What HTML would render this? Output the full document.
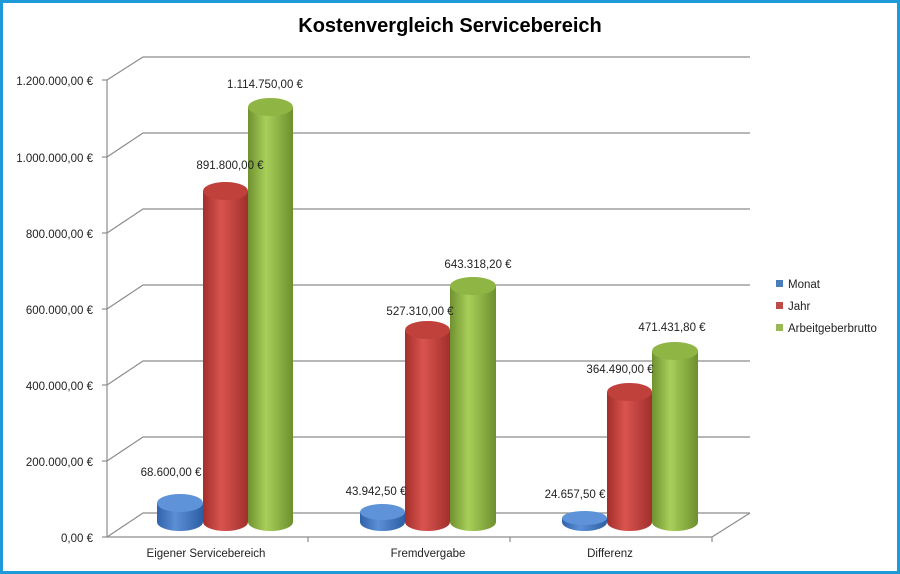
<!DOCTYPE html>
<html><head><meta charset="utf-8"><style>
html,body{margin:0;padding:0;background:#fff}
svg{display:block;font-family:"Liberation Sans",sans-serif}
</style></head><body>
<svg width="900" height="574" viewBox="0 0 900 574" xmlns="http://www.w3.org/2000/svg">
<defs>
<linearGradient id="gb" x1="0" x2="1"><stop offset="0" stop-color="#2f62a8"/><stop offset="0.4" stop-color="#5b8fd6"/><stop offset="1" stop-color="#2d5ea3"/></linearGradient>
<linearGradient id="gr" x1="0" x2="1"><stop offset="0" stop-color="#a32e2b"/><stop offset="0.4" stop-color="#d9544f"/><stop offset="1" stop-color="#a12f2c"/></linearGradient>
<linearGradient id="gg" x1="0" x2="1"><stop offset="0" stop-color="#6f9130"/><stop offset="0.4" stop-color="#a8cf5a"/><stop offset="1" stop-color="#6e8f2e"/></linearGradient>
</defs>
<rect x="1.5" y="1.5" width="897" height="571" fill="#fff" stroke="#1e9ad8" stroke-width="3"/>
<text x="450" y="32" text-anchor="middle" font-size="20" font-weight="bold" fill="#000">Kostenvergleich Servicebereich</text>
<g stroke="#8c8c8c" stroke-width="1.2" fill="none">
<polyline points="107,80 143,57 750,57"/>
<polyline points="107,157 143,133 750,133"/>
<polyline points="107,233 143,209 750,209"/>
<polyline points="107,309 143,285 750,285"/>
<polyline points="107,385 143,361 750,361"/>
<polyline points="107,461 143,437 750,437"/>
<polyline points="107,537 143,513 750,513"/>
<line x1="107" y1="80" x2="107" y2="537"/>
<line x1="107" y1="537" x2="712" y2="537"/>
<line x1="712" y1="537" x2="750" y2="513"/>
<line x1="102" y1="80" x2="107" y2="80"/><line x1="102" y1="157" x2="107" y2="157"/><line x1="102" y1="233" x2="107" y2="233"/><line x1="102" y1="309" x2="107" y2="309"/><line x1="102" y1="385" x2="107" y2="385"/><line x1="102" y1="461" x2="107" y2="461"/><line x1="102" y1="537" x2="107" y2="537"/>
<line x1="308" y1="537" x2="308" y2="542"/><line x1="510" y1="537" x2="510" y2="542"/><line x1="712" y1="537" x2="712" y2="542"/>
</g>
<g font-size="11.5" fill="#222" text-anchor="end">
<text x="93" y="85">1.200.000,00 €</text><text x="93" y="162">1.000.000,00 €</text><text x="93" y="238">800.000,00 €</text><text x="93" y="314">600.000,00 €</text><text x="93" y="390">400.000,00 €</text><text x="93" y="466">200.000,00 €</text><text x="93" y="542">0,00 €</text>
</g>
<g font-size="11.5" fill="#222" text-anchor="middle">
<text x="206" y="557">Eigener Servicebereich</text><text x="428" y="557">Fremdvergabe</text><text x="610" y="557">Differenz</text>
</g>
<g>
<path d="M157,503 v19 a23,9 0 0 0 46,0 v-19z" fill="url(#gb)"/><ellipse cx="180" cy="503" rx="23" ry="9" fill="#5f93d9"/>
<path d="M203,191 v331 a22.5,9 0 0 0 45,0 v-331z" fill="url(#gr)"/><ellipse cx="225.5" cy="191" rx="22.5" ry="9" fill="#c0403c"/>
<path d="M248,107 v415 a22.5,9 0 0 0 45,0 v-415z" fill="url(#gg)"/><ellipse cx="270.5" cy="107" rx="22.5" ry="9" fill="#8fb544"/>

<path d="M360,512 v10 a22.5,9 0 0 0 45,0 v-10z" fill="url(#gb)"/><ellipse cx="382.5" cy="512" rx="22.5" ry="8" fill="#5f93d9"/>
<path d="M405,330 v192 a22.5,9 0 0 0 45,0 v-192z" fill="url(#gr)"/><ellipse cx="427.5" cy="330" rx="22.5" ry="9" fill="#c0403c"/>
<path d="M450,286 v236 a23,9 0 0 0 46,0 v-236z" fill="url(#gg)"/><ellipse cx="473" cy="286" rx="23" ry="9" fill="#8fb544"/>

<path d="M562,518 v4 a22.5,9 0 0 0 45,0 v-4z" fill="url(#gb)"/><ellipse cx="584.5" cy="518" rx="22.5" ry="7" fill="#5f93d9"/>
<path d="M607,392 v130 a22.5,9 0 0 0 45,0 v-130z" fill="url(#gr)"/><ellipse cx="629.5" cy="392" rx="22.5" ry="9" fill="#c0403c"/>
<path d="M652,351 v171 a23,9 0 0 0 46,0 v-171z" fill="url(#gg)"/><ellipse cx="675" cy="351" rx="23" ry="9" fill="#8fb544"/>
</g>
<g font-size="11.5" fill="#222" text-anchor="middle">
<text x="171" y="476">68.600,00 €</text><text x="230" y="169">891.800,00 €</text><text x="265" y="88">1.114.750,00 €</text>
<text x="376" y="495">43.942,50 €</text><text x="420" y="315">527.310,00 €</text><text x="478" y="268">643.318,20 €</text>
<text x="575" y="498">24.657,50 €</text><text x="620" y="373">364.490,00 €</text><text x="672" y="331">471.431,80 €</text>
</g>
<g font-size="11.5" fill="#222">
<rect x="776" y="280" width="7" height="7" fill="#4a7ebb"/><text x="788" y="288">Monat</text>
<rect x="776" y="302" width="7" height="7" fill="#be4b48"/><text x="788" y="310">Jahr</text>
<rect x="776" y="324" width="7" height="7" fill="#98b954"/><text x="788" y="332">Arbeitgeberbrutto</text>
</g>
</svg>
</body></html>
